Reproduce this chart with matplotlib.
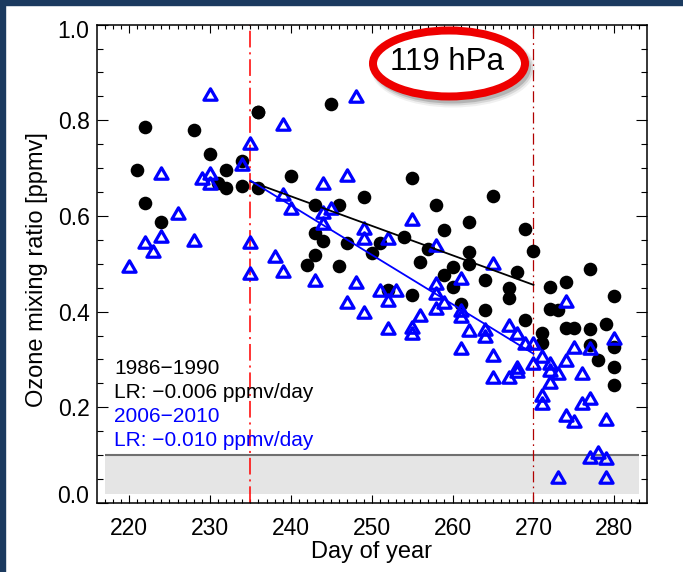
import matplotlib
matplotlib.use("Agg")
import matplotlib.pyplot as plt
from matplotlib.patches import Ellipse, Rectangle
from matplotlib.path import Path
import numpy as np

plt.rcParams['font.family'] = ['Liberation Sans', 'DejaVu Sans']
plt.rcParams['lines.scale_dashes'] = False

# ---- data ----
black_days = [221, 222, 222, 224, 228, 230, 231, 232, 232, 234, 234, 236, 236,
              236, 245, 240, 249, 255, 258, 243, 246, 259, 243, 244, 247, 251,
              254, 257, 243, 242, 246, 250, 252, 255, 256, 259,
              265, 262, 269, 262, 262, 270, 260, 260, 261, 264, 264, 268, 267,
              267, 269, 271, 271, 272, 274, 272, 273, 274, 275, 277, 277, 277,
              278, 279, 280, 280, 280, 280]
black_vals = [0.697, 0.786, 0.628, 0.587, 0.780, 0.729, 0.668, 0.697, 0.658, 0.715, 0.663, 0.658, 0.818,
              0.818, 0.833, 0.683, 0.640, 0.679, 0.623, 0.623, 0.623, 0.570, 0.564, 0.548, 0.543, 0.543,
              0.556, 0.530, 0.518, 0.497, 0.495, 0.522, 0.445, 0.435, 0.504, 0.476,
              0.642, 0.587, 0.572, 0.525, 0.500, 0.527, 0.494, 0.452, 0.417, 0.467, 0.403, 0.483, 0.449,
              0.428, 0.382, 0.355, 0.334, 0.451, 0.461, 0.405, 0.403, 0.365, 0.365, 0.489, 0.364, 0.330,
              0.299, 0.374, 0.433, 0.327, 0.285, 0.247]

blue_days = [220, 222, 223, 224, 224, 226, 228, 229, 230, 230, 230, 234, 235, 235, 235,
             239, 248, 247, 244, 239, 240, 244, 245, 244, 255, 249, 249, 252, 258, 238,
             239, 243, 248, 247, 249, 251, 252, 253, 252, 255, 255, 256, 258, 258, 258, 259,
             261, 265, 261, 261, 262, 261, 264, 264, 265, 265, 267, 268, 269, 270, 267, 268,
             268, 270, 271, 272, 272, 272, 273, 271, 271, 274, 275, 274, 276, 277, 276, 277,
             274, 275, 279, 280, 277, 278, 279, 273, 279]
blue_vals = [0.495, 0.545, 0.527, 0.558, 0.690, 0.607, 0.550, 0.680, 0.855, 0.690, 0.668, 0.708, 0.753, 0.545, 0.481,
             0.792, 0.850, 0.685, 0.668, 0.645, 0.616, 0.609, 0.617, 0.585, 0.594, 0.574, 0.553, 0.553, 0.539, 0.517,
             0.485, 0.467, 0.462, 0.420, 0.400, 0.446, 0.424, 0.445, 0.365, 0.367, 0.355, 0.393, 0.459, 0.438, 0.407, 0.420,
             0.471, 0.501, 0.403, 0.390, 0.362, 0.323, 0.364, 0.350, 0.310, 0.264, 0.373, 0.356, 0.335, 0.334, 0.264, 0.285,
             0.275, 0.292, 0.307, 0.292, 0.278, 0.253, 0.272, 0.226, 0.210, 0.423, 0.327, 0.299, 0.272, 0.323, 0.210, 0.219,
             0.184, 0.171, 0.175, 0.345, 0.097, 0.107, 0.095, 0.055, 0.055]

trend_days = [235, 270]
black_trend = [0.672, 0.456]
blue_trend = [0.674, 0.312]

period_lines = [235, 270]
band_days = [217, 283]
band_vals = [0.018, 0.100]

x_ticks = [220, 230, 240, 250, 260, 270, 280]
x_tick_labels = ['220', '230', '240', '250', '260', '270', '280']
y_ticks = [0.0, 0.2, 0.4, 0.6, 0.8, 1.0]
y_tick_labels = ['0.0', '0.2', '0.4', '0.6', '0.8', '1.0']

legend_lines = ['1986\u22121990', 'LR: \u22120.006 ppmv/day', '2006\u22122010', 'LR: \u22120.010 ppmv/day']
legend_colors = ['black', 'black', '#0000ff', '#0000ff']
title_text = '119 hPa'

# ---- figure ----
W, H = 683, 572
fig = plt.figure(figsize=(W / 100, H / 100), dpi=100)
fig.patch.set_facecolor('white')

# dark frame strips (left & top)
navy = '#1b3a5f'
fig.add_artist(Rectangle((0, 0), 5 / W, 1, transform=fig.transFigure, color=navy, zorder=10))
fig.add_artist(Rectangle((0, 1 - 5 / H), 1, 5 / H, transform=fig.transFigure, color=navy, zorder=10))

ax = fig.add_axes([96.7 / W, 1 - 503 / H, 550 / W, 478.4 / H])
ax.set_xlim(216, 284)
ax.set_ylim(0, 1.0)

# gray band
ax.add_patch(Rectangle((band_days[0], band_vals[0]), band_days[1] - band_days[0],
                       band_vals[1] - band_vals[0], facecolor='#e5e5e5', edgecolor='none', zorder=1))
ax.plot(band_days, [band_vals[1], band_vals[1]], color='#707070', lw=1.5, zorder=1.5, solid_capstyle='butt')

# vertical period lines
ax.axvline(period_lines[0], color='#ff1010', lw=1.2, dashes=(12, 3.5, 1.5, 3.5), zorder=2)
ax.axvline(period_lines[1], color='#b00000', lw=0.9, dashes=(8, 3, 1.2, 3), zorder=2)

# markers
ax.plot(black_days, black_vals, 'o', color='black', markersize=9.8, markeredgewidth=0, zorder=3)
tri = Path([(-1, -0.866), (1, -0.866), (0, 0.866), (-1, -0.866)],
           [Path.MOVETO, Path.LINETO, Path.LINETO, Path.CLOSEPOLY])
ax.plot(blue_days, blue_vals, linestyle='none', marker=tri, markersize=9.5,
        markerfacecolor='none', markeredgecolor='#0000ff', markeredgewidth=2.3, zorder=4)

# trend lines
ax.plot(trend_days, black_trend, color='black', lw=1.3, zorder=5)
ax.plot(trend_days, blue_trend, color='#0000ff', lw=1.3, zorder=5)

# ticks
ax.set_xticks(x_ticks)
ax.set_xticklabels(x_tick_labels)
ax.set_xticks(np.arange(217, 284, 1), minor=True)
ax.set_yticks(y_ticks)
ax.set_yticklabels(['', '0.2', '0.4', '0.6', '0.8', ''])
ax.set_yticks(np.arange(0, 1.0001, 0.05), minor=True)
ax.tick_params(axis='both', which='both', direction='in', top=True, right=True, width=0.8, labelsize=16.5)
ax.tick_params(axis='x', which='major', length=6, pad=10)
ax.tick_params(axis='x', which='minor', length=2.8)
ax.tick_params(axis='y', which='major', length=7.7, pad=5)
ax.tick_params(axis='y', which='minor', length=4)
for s in ax.spines.values():
    s.set_linewidth(1.1)

# end y labels (nudged inward like the reference)
ax.text(-7.4 / 550, 0.0 + 6.3 / 478.4, y_tick_labels[0], transform=ax.transAxes,
        ha='right', va='center', fontsize=16.5)
ax.text(-7.4 / 550, 1.0 - 6.7 / 478.4, y_tick_labels[-1], transform=ax.transAxes,
        ha='right', va='center', fontsize=16.5)

# axis labels
fig.text(371.7 / W, 1 - 552 / H, 'Day of year', ha='center', va='center', fontsize=17)
fig.text(36.7 / W, 1 - 270 / H, 'Ozone mixing ratio [ppmv]', ha='center', va='center',
         rotation=90, fontsize=17)

# legend text
base_y = [374.0, 398.3, 421.7, 446.0]
for txt, col, by in zip(legend_lines, legend_colors, base_y):
    ax.text(17.3 / 550, (503 - by) / 478.4, txt, transform=ax.transAxes, color=col,
            ha='left', va='baseline', fontsize=15)

# title ellipse with shadow
cx, cy = 449 / W, 1 - 63.5 / H
ew, eh = 152 / W, 66 / H
for off, lw, a in [((4, -5), 12, 0.06), ((3.5, -4.5), 9, 0.10), ((3, -4), 6, 0.16)]:
    fig.add_artist(Ellipse((cx + off[0] / W, cy + off[1] / H), ew, eh, transform=fig.transFigure,
                           facecolor='none', edgecolor='black', lw=lw * 0.72, alpha=a, zorder=6))
fig.add_artist(Ellipse((cx, cy), ew, eh, transform=fig.transFigure, facecolor='white',
                       edgecolor='#ee0000', lw=8 * 0.72, zorder=7))
fig.text(447 / W, 1 - 61.5 / H, title_text, ha='center', va='center', fontsize=22.5, zorder=8)

fig.savefig('out.png', dpi=100)
